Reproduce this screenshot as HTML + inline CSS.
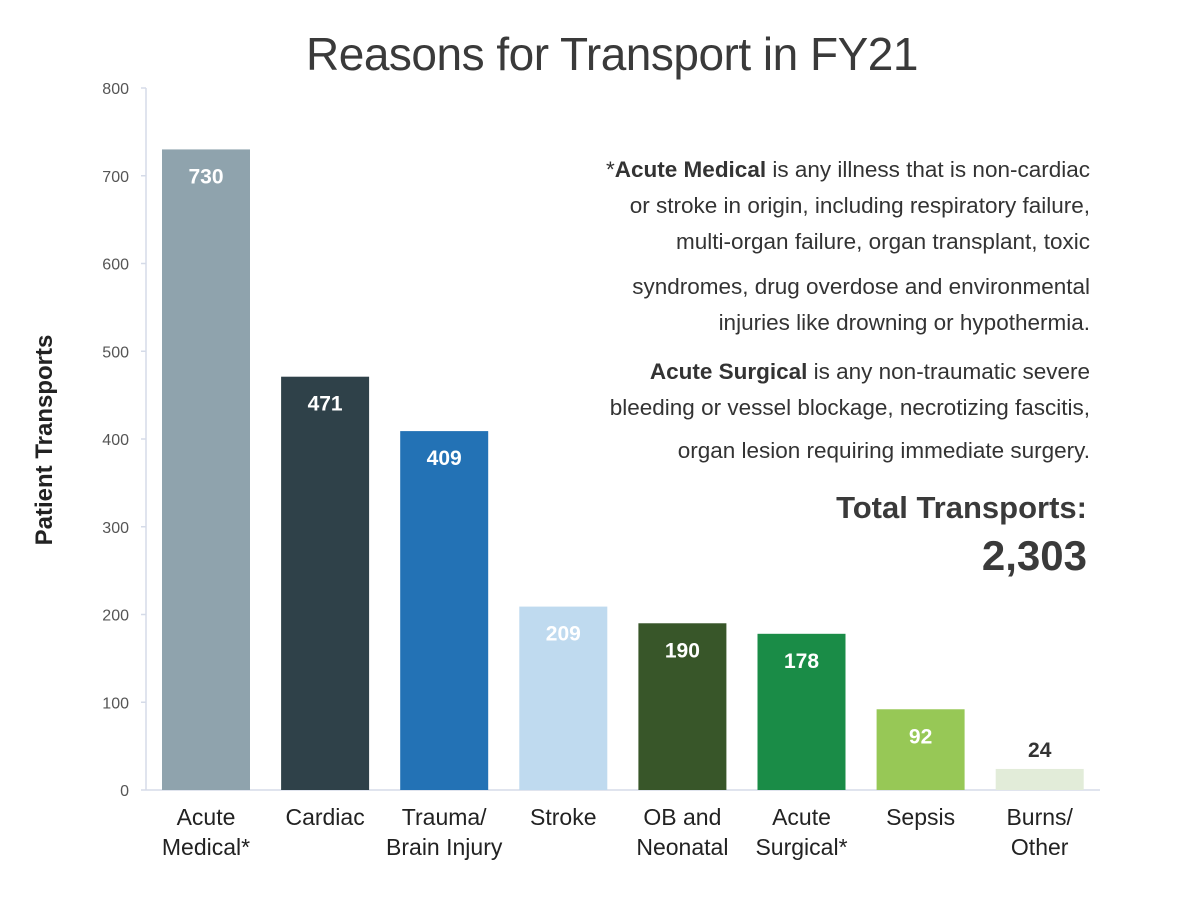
<!DOCTYPE html>
<html><head><meta charset="utf-8"><style>
body{margin:0;background:#fff;width:1187px;height:898px;overflow:hidden;font-family:"Liberation Sans",sans-serif}
</style></head><body>
<svg id="c" width="1187" height="898">
<text x="612" y="70" text-anchor="middle" font-size="46" fill="#3a3a3a" font-family="Liberation Sans, sans-serif" style="letter-spacing:-0.5px">Reasons for Transport in FY21</text>
<text transform="translate(52,440) rotate(-90)" text-anchor="middle" font-size="24" font-weight="bold" fill="#222">Patient Transports</text>
<g font-size="22.5" fill="#333" text-anchor="end" font-family="Liberation Sans Narrow, Liberation Sans, sans-serif">
<text x="1090" y="177">*<tspan font-weight="bold">Acute Medical</tspan> is any illness that is non-cardiac</text>
<text x="1090" y="213">or stroke in origin, including respiratory failure,</text>
<text x="1090" y="249">multi-organ failure, organ transplant, toxic</text>
<text x="1090" y="294">syndromes, drug overdose and environmental</text>
<text x="1090" y="330">injuries like drowning or hypothermia.</text>
<text x="1090" y="379"><tspan font-weight="bold">Acute Surgical</tspan> is any non-traumatic severe</text>
<text x="1090" y="415">bleeding or vessel blockage, necrotizing fascitis,</text>
<text x="1090" y="458">organ lesion requiring immediate surgery.</text>
</g>
<text x="1087" y="518" text-anchor="end" font-size="31" font-weight="bold" fill="#3a3a3a">Total Transports:</text>
<text x="1087" y="570" text-anchor="end" font-size="42" font-weight="bold" fill="#3a3a3a">2,303</text>
</svg>
<script>
const categories=[["Acute","Medical*"],["Cardiac"],["Trauma/","Brain Injury"],["Stroke"],["OB and","Neonatal"],["Acute","Surgical*"],["Sepsis"],["Burns/","Other"]];
const values=[730,471,409,209,190,178,92,24];
const ticks=[0,100,200,300,400,500,600,700,800];
const colors=["#8fa3ad","#2f4149","#2372b5","#bfdaef","#385629","#1a8c47","#97c856","#e2ecd9"];
const svg=document.getElementById('c');const NS='http://www.w3.org/2000/svg';
const y0=790,y1=88,vmax=800;
const y=v=>y0-(v/vmax)*(y0-y1);
const x=i=>162+i*119.1;
const bw=88;
function mk(t,a){const e=document.createElementNS(NS,t);for(const k in a)e.setAttribute(k,a[k]);svg.appendChild(e);return e;}
let ax=mk('line',{x1:146,x2:146,y1:y1,y2:y0,stroke:'#d5dbe8','stroke-width':1.5});


let bx=mk('line',{x1:146,x2:1100,y1:y0,y2:y0,stroke:'#d5dbe8','stroke-width':1.5});


ticks.forEach(t=>{
 let l=mk('line',{x1:141,x2:146,y1:y(t),y2:y(t),stroke:'#d5dbe8','stroke-width':1.5});
 
 
 let tx=mk('text',{x:129,y:y(t)+6,'text-anchor':'end','font-size':16,fill:'#555'});
 tx.textContent=t;
 
 
});
values.forEach((v,i)=>{
 let r=mk('rect',{x:x(i),y:y(v),width:bw,height:y0-y(v),fill:colors[i]});
 
 
 let lbl=mk('text',{x:x(i)+bw/2,y:(v<50?y(v)-12:y(v)+34),'text-anchor':'middle','font-size':21,'font-weight':'bold',fill:(v<50?'#333':'#fff')});
 lbl.textContent=v;
 
 
 categories[i].forEach((s,j)=>{
  let c=mk('text',{x:x(i)+bw/2,y:825+j*30,'text-anchor':'middle','font-size':23,fill:'#222','font-family':'Liberation Sans Narrow, Liberation Sans, sans-serif'});
  c.textContent=s;
  
  
 });
});
</script>
</body></html>
